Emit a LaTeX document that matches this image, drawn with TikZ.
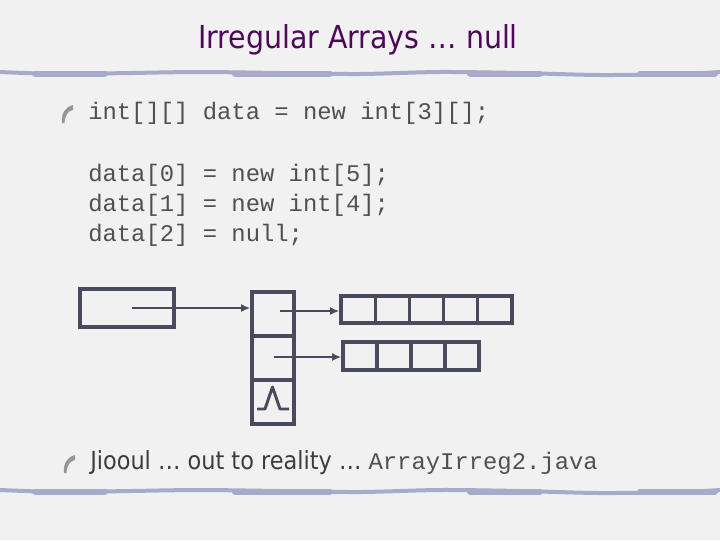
\documentclass[tikz,border=0pt]{standalone}
\usepackage{fontspec}
\setmainfont{DejaVu Sans Condensed}
\setmonofont{Liberation Mono}
\usepackage{tikz}
\usetikzlibrary{arrows.meta}
\newcommand{\boxline}{2.5pt}
\newcommand{\codefont}{\fontsize{17.9}{20}\selectfont\ttfamily}
\newcommand{\headfont}{\fontsize{23.7}{26}\selectfont}
\newcommand{\notefont}{\fontsize{18.7}{21}\selectfont}
\definecolor{paper}{RGB}{241,241,241}
\definecolor{boxgray}{RGB}{74,74,94}
\definecolor{codegray}{RGB}{80,80,80}
\definecolor{notegray}{RGB}{60,60,60}
\definecolor{headpurple}{RGB}{78,8,88}
\definecolor{rulegray}{RGB}{168,170,202}
\definecolor{quill}{RGB}{150,150,150}

\begin{document}
\begin{tikzpicture}[x=0.75pt,y=-0.75pt,
    cell/.style={draw=boxgray, line width=\boxline, inner sep=0pt},
    ptr/.style={draw=boxgray, line width=2pt, -{Latex[length=7pt,width=6pt]}},
    code/.style={anchor=west, inner sep=0pt, font=\codefont, text=codegray},
    rule/.style={draw=rulegray, line cap=round}]

  \fill[paper] (0,0) rectangle (720,540);
  \useasboundingbox (0,0) rectangle (720,540);

      %% heading and the two ragged rules
  \node (head) at (358,40) [font=\headfont, text=headpurple] {Irregular Arrays … null};
  \foreach \y in {0,418}
  { \draw[rule, line width=3pt, shift={(0,\y)}] plot[smooth] coordinates
      {(0,72) (60,74) (130,73) (200,72) (280,73) (360,74) (440,72) (520,73)
       (600,75) (680,74) (720,72)};
    \foreach \a/\b in {35/105,235/330,470/540,640/715}
    { \draw[rule, line width=4.5pt, shift={(0,\y)}] (\a,73.5) -- (\b,73.5);}
  }

      %% quill bullets
  \foreach \dx/\dy in {0/0,2/350}
  { \fill[quill, shift={(\dx,\dy)}] (62,123) .. controls (61,114) and (65,107) .. (73,105)
      -- (73,110) .. controls (68,111) and (65,115) .. (64.5,123) -- cycle;}

      %% the code
  \node (decl) at (88,113) [code] {int[][] data = new int[3][];};
  \node (line0) at (88,175) [code] {data[0] = new int[5];};
  \node (line1) at (88,205) [code] {data[1] = new int[4];};
  \node (line2) at (88,235) [code] {data[2] = null;};

      %% the variable, the column of rows and the two rows
  \node (data) at (127,308) [cell, minimum width=70.5pt, minimum height=28.5pt] {};
  \foreach \j/\y in {0/314,1/358,2/402}
  { \node (c\j) at (273,\y) [cell, minimum width=31.5pt, minimum height=33pt] {};}
  \foreach \j in {0,...,4}
  { \node (r0\j) at ({358.1+34.2*\j},309.5) [cell, minimum width=25.65pt, minimum height=20.25pt] {};}
  \foreach \j in {0,...,3}
  { \node (r1\j) at ({360+34*\j},356) [cell, minimum width=25.5pt, minimum height=21pt] {};}

  \coordinate (p) at (132,308);
  \coordinate (q0) at (280,311);
  \coordinate (q1) at (274,357);
  \draw[ptr] (p) -- (p -| c0.west);
  \draw[ptr] (q0) -- (q0 -| r00.west);
  \draw[ptr] (q1) -- (q1 -| r10.west);

      %% null in the last slot
  \draw[boxgray, line width=2.2pt, line join=round] (c2.center) ++(-16,7) -- ++(8,0)
      -- ++(7.5,-22) -- ++(7.5,22) -- ++(9,0);

      %% closing remark
  \node (note) at (90,463) [anchor=west, inner sep=0pt, text=notegray]
      {\notefont Jiooul … out to reality … \codefont\color{codegray}ArrayIrreg2.java};

\end{tikzpicture}
\end{document}
